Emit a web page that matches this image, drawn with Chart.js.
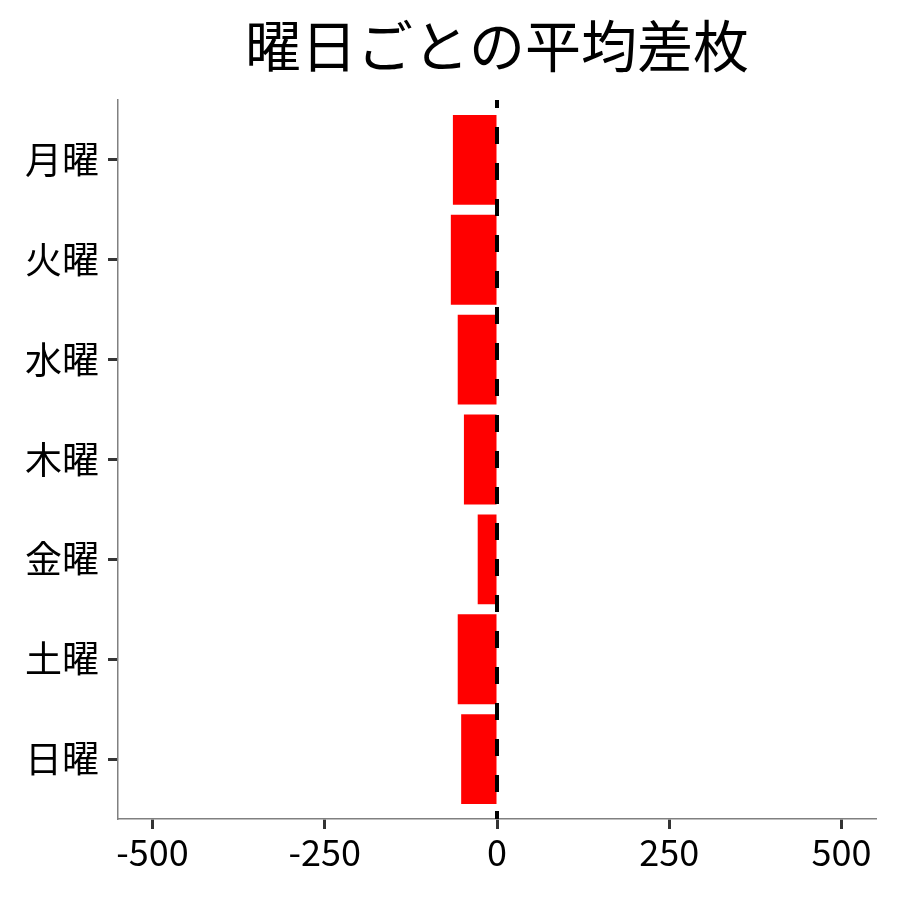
<!DOCTYPE html>
<html>
<head>
<meta charset="utf-8">
<script src="https://cdn.jsdelivr.net/npm/chart.js@4.4.1/dist/chart.umd.min.js"></script>
<style>
html,body{margin:0;padding:0;background:#fff;}
#wrap{width:900px;height:900px;}
</style>
</head>
<body>
<div id="wrap"><canvas id="c" width="900" height="900"></canvas></div>
<script>
const titleText = "曜日ごとの平均差枚";
const days = ["月曜", "火曜", "水曜", "木曜", "金曜", "土曜", "日曜"];
const avgDiff = [-64, -67, -57, -48, -28, -57, -52];
const xTicks = [-500, -250, 0, 250, 500];

const FONT = '"Noto Sans CJK JP", "Noto Sans", sans-serif';

const zeroLine = {
  id: 'zeroLine',
  afterDatasetsDraw(chart) {
    const {ctx, chartArea, scales} = chart;
    const x = scales.x.getPixelForValue(0);
    ctx.save();
    ctx.strokeStyle = '#000';
    ctx.lineWidth = 4;
    ctx.setLineDash([17, 19]);
    ctx.lineDashOffset = 9;
    ctx.beginPath();
    ctx.moveTo(x, chartArea.top);
    ctx.lineTo(x, chartArea.bottom);
    ctx.stroke();
    ctx.restore();
  }
};

const panelTitle = {
  id: 'panelTitle',
  afterDraw(chart) {
    const {ctx, chartArea} = chart;
    ctx.save();
    ctx.fillStyle = '#000';
    ctx.font = '56px ' + FONT;
    ctx.textAlign = 'center';
    ctx.textBaseline = 'middle';
    ctx.fillText(titleText, (chartArea.left + chartArea.right) / 2, 46);
    ctx.restore();
  }
};

new Chart(document.getElementById('c'), {
  type: 'bar',
  data: {
    datasets: [{
      data: days.map((d, i) => ({x: avgDiff[i], y: i})),
      backgroundColor: '#ff0000',
      borderWidth: 0,
      barPercentage: 0.9,
      categoryPercentage: 1.0
    }]
  },
  options: {
    responsive: false,
    animation: false,
    indexAxis: 'y',
    layout: {padding: {left: 0, right: 24, top: 100, bottom: 0}},
    plugins: {
      legend: {display: false},
      tooltip: {enabled: false},
      title: {display: false}
    },
    scales: {
      x: {
        type: 'linear',
        min: -550,
        max: 550,
        afterBuildTicks: s => { s.ticks = xTicks.map(v => ({value: v})); },
        afterFit: s => { s.height = 81; },
        ticks: {
          color: '#000',
          font: {family: FONT, size: 36},
          padding: 2,
          maxRotation: 0,
          callback: v => String(v)
        },
        grid: {drawOnChartArea: false, drawTicks: true, tickLength: 10, tickWidth: 3, tickColor: '#333'},
        border: {display: true, color: '#808080', width: 1.5}
      },
      y: {
        type: 'linear',
        min: -0.6,
        max: 6.6,
        reverse: true,
        offset: false,
        afterBuildTicks: s => { s.ticks = days.map((d, i) => ({value: i})); },
        afterFit: s => { s.width = 118; },
        ticks: {
          color: '#000',
          font: {family: FONT, size: 37},
          padding: 9,
          autoSkip: false,
          callback: v => days[v]
        },
        grid: {offset: false, drawOnChartArea: false, drawTicks: true, tickLength: 10, tickWidth: 3, tickColor: '#333'},
        border: {display: true, color: '#808080', width: 1.5}
      }
    }
  },
  plugins: [zeroLine, panelTitle]
});
</script>
</body>
</html>
